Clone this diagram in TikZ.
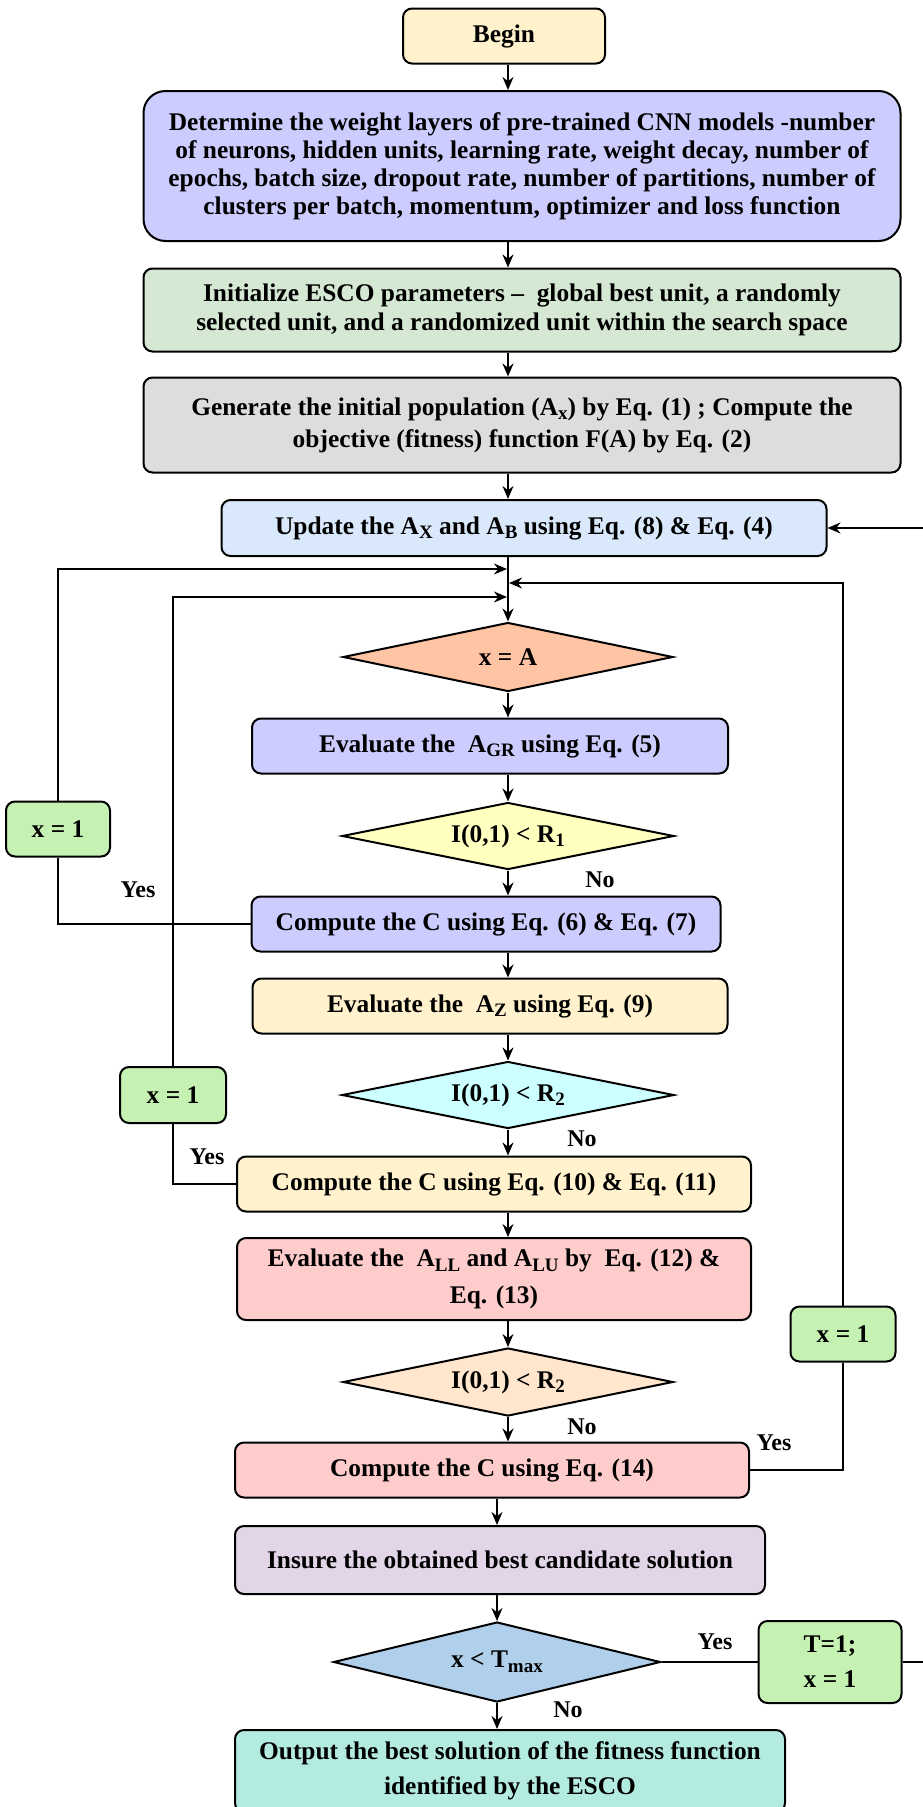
\documentclass[tikz,border=0pt]{standalone}
\usepackage{fontspec}
\setmainfont{Liberation Serif}
\usetikzlibrary{shapes.geometric,arrows.meta}
\definecolor{cBegin}{HTML}{FFF2CC}
\definecolor{cLav}{HTML}{CCCCFF}
\definecolor{cGreen}{HTML}{D5E8D4}
\definecolor{cGray}{HTML}{DDDDDD}
\definecolor{cBlue}{HTML}{DAE8FC}
\definecolor{cPeachD}{HTML}{FFC4A3}
\definecolor{cYel}{HTML}{FFFFC0}
\definecolor{cCyan}{HTML}{CCFFFF}
\definecolor{cPink}{HTML}{FFCCCC}
\definecolor{cPeach}{HTML}{FFE6CC}
\definecolor{cPurp}{HTML}{E1D5E7}
\definecolor{cSteel}{HTML}{B0CFEB}
\definecolor{cMint}{HTML}{B4EBE1}
\definecolor{cLime}{HTML}{C5F1B2}
\newcommand{\sbs}[1]{\raisebox{-0.4ex}{\fontsize{19}{19}\selectfont #1}}
\begin{document}
\begin{tikzpicture}[x=1pt,y=-1pt,
  font={\fontsize{25.4}{28}\selectfont\bfseries},
  box/.style={draw=black, line width=2pt, rounded corners=9pt, align=center, inner sep=0pt},
  dia/.style={draw=black, line width=2pt, diamond, aspect=4.5, inner sep=0pt, align=center},
  ln/.style={line width=2pt},
  arr/.style={line width=2pt, -{Stealth[length=13pt,width=11pt]}},
  lbl/.style={inner sep=0pt, font={\fontsize{24}{26}\selectfont\bfseries}}]
\useasboundingbox (0,0) rectangle (923,1807);
\coordinate (mx) at (508,0);
\coordinate (bx) at (497,0);
% main column
\node[box, fill=cBegin, minimum width=202pt, minimum height=55pt] (begin) at (504,36) {Begin};
\node[box, fill=cLav, rounded corners=22pt, minimum width=757pt, minimum height=150pt] (det) at (522,166)
 {Determine the weight layers of pre-trained CNN models -number\\ of neurons, hidden units, learning rate, weight decay, number of\\ epochs, batch size, dropout rate, number of partitions, number of\\ clusters per batch, momentum, optimizer and loss function};
\node[box, fill=cGreen, minimum width=757pt, minimum height=83pt, font={\fontsize{25.4}{29}\selectfont\bfseries}] (init) at (522,310)
 {Initialize ESCO parameters --\ \ global best unit, a randomly\\ selected unit, and a randomized unit within the search space};
\node[box, fill=cGray, minimum width=757pt, minimum height=95pt, font={\fontsize{25.4}{32}\selectfont\bfseries}] (gen) at (522,425)
 {Generate the initial population (A\sbs{x}) by Eq. (1) ; Compute the\\ objective (fitness) function F(A) by Eq. (2)};
\node[box, fill=cBlue, minimum width=605pt, minimum height=56pt] (upd) at (524,528)
 {Update the A\sbs{X} and A\sbs{B} using Eq. (8) \& Eq. (4)};
\node[dia, fill=cPeachD, minimum width=330pt, minimum height=69pt] (xa) at (508,657) {x = A};
\node[box, fill=cLav, minimum width=476pt, minimum height=55pt] (agr) at (490,746)
 {Evaluate the\ \ A\sbs{GR} using Eq. (5)};
\node[dia, fill=cYel, minimum width=332pt, minimum height=67pt] (r1) at (508,836) {I(0,1) < R\sbs{1}};
\node[box, fill=cLav, minimum width=469pt, minimum height=55pt] (c67) at (486,924)
 {Compute the C using Eq. (6) \& Eq. (7)};
\node[box, fill=cBegin, minimum width=475pt, minimum height=55pt] (az) at (490,1006)
 {Evaluate the\ \ A\sbs{Z} using Eq. (9)};
\node[dia, fill=cCyan, minimum width=332pt, minimum height=67pt] (r2) at (508,1095) {I(0,1) < R\sbs{2}};
\node[box, fill=cBegin, minimum width=514pt, minimum height=55pt] (c1011) at (494,1184)
 {Compute the C using Eq. (10) \& Eq. (11)};
\node[box, fill=cPink, minimum width=514pt, minimum height=82pt, font={\fontsize{25.4}{37}\selectfont\bfseries}] (all) at (494,1279)
 {Evaluate the\ \ A\sbs{LL} and A\sbs{LU} by\ \ Eq. (12) \&\\ Eq. (13)};
\node[dia, fill=cPeach, minimum width=330pt, minimum height=68pt] (r2b) at (508,1382) {I(0,1) < R\sbs{2}};
\node[box, fill=cPink, minimum width=514pt, minimum height=55pt] (c14) at (492,1470)
 {Compute the C using Eq. (14)};
\node[box, fill=cPurp, minimum width=530pt, minimum height=68pt] (ins) at (500,1560)
 {Insure the obtained best candidate solution};
\node[dia, fill=cSteel, minimum width=327pt, minimum height=80pt] (tmax) at (497,1662) {x < T\sbs{max}};
\node[box, fill=cMint, minimum width=550pt, minimum height=82pt, font={\fontsize{25.4}{35}\selectfont\bfseries}] (out) at (510,1771)
 {Output the best solution of the fitness function\\ identified by the ESCO};
% side boxes
\node[box, fill=cLime, minimum width=143pt, minimum height=82pt, font={\fontsize{25.4}{35}\selectfont\bfseries}] (tb) at (830,1662) {T=1;\\ x = 1};
\node[box, fill=cLime, minimum width=104pt, minimum height=55pt] (x1a) at (58,829) {x = 1};
\node[box, fill=cLime, minimum width=106pt, minimum height=56pt] (x1b) at (173,1095) {x = 1};
\node[box, fill=cLime, minimum width=105pt, minimum height=55pt] (x1c) at (843,1334) {x = 1};
% junction points
\coordinate (j1) at (507,569);
\coordinate (j2) at (509,583);
\coordinate (j3) at (507,597);
\coordinate (rc) at (925,528);
% main arrows
\draw[arr] (begin.south -| mx) -- (det.north -| mx);
\draw[arr] (det.south -| mx) -- (init.north -| mx);
\draw[arr] (init.south -| mx) -- (gen.north -| mx);
\draw[arr] (gen.south -| mx) -- (upd.north -| mx);
\draw[arr] (upd.south -| mx) -- (xa.north);
\draw[arr] (xa.south) -- (agr.north -| mx);
\draw[arr] (agr.south -| mx) -- (r1.north);
\draw[arr] (r1.south) -- (c67.north -| mx);
\draw[arr] (c67.south -| mx) -- (az.north -| mx);
\draw[arr] (az.south -| mx) -- (r2.north);
\draw[arr] (r2.south) -- (c1011.north -| mx);
\draw[arr] (c1011.south -| mx) -- (all.north -| mx);
\draw[arr] (all.south -| mx) -- (r2b.north);
\draw[arr] (r2b.south) -- (c14.north -| mx);
\draw[arr] (c14.south -| bx) -- (ins.north -| bx);
\draw[arr] (ins.south -| bx) -- (tmax.north);
\draw[arr] (tmax.south) -- (out.north -| bx);
% loops
\draw[ln] (c67.west) -| (x1a.south);
\draw[arr] (x1a.north) |- (j1);
\draw[ln] (c1011.west) -| (x1b.south);
\draw[arr] (x1b.north) |- (j3);
\draw[ln] (c14.east) -| (x1c.south);
\draw[arr] (x1c.north) |- (j2);
\draw[ln] (tmax.east) -- (tb.west);
\draw[arr] (tb.east) -| (rc) -- (upd.east);
% labels
\node[lbl] (l1) at (138,890) {Yes};
\node[lbl] (l2) at (600,880) {No};
\node[lbl] (l3) at (207,1157) {Yes};
\node[lbl] (l4) at (582,1139) {No};
\node[lbl] (l5) at (582,1427) {No};
\node[lbl] (l6) at (774,1443) {Yes};
\node[lbl] (l7) at (715,1642) {Yes};
\node[lbl] (l8) at (568,1710) {No};
\end{tikzpicture}
\end{document}
